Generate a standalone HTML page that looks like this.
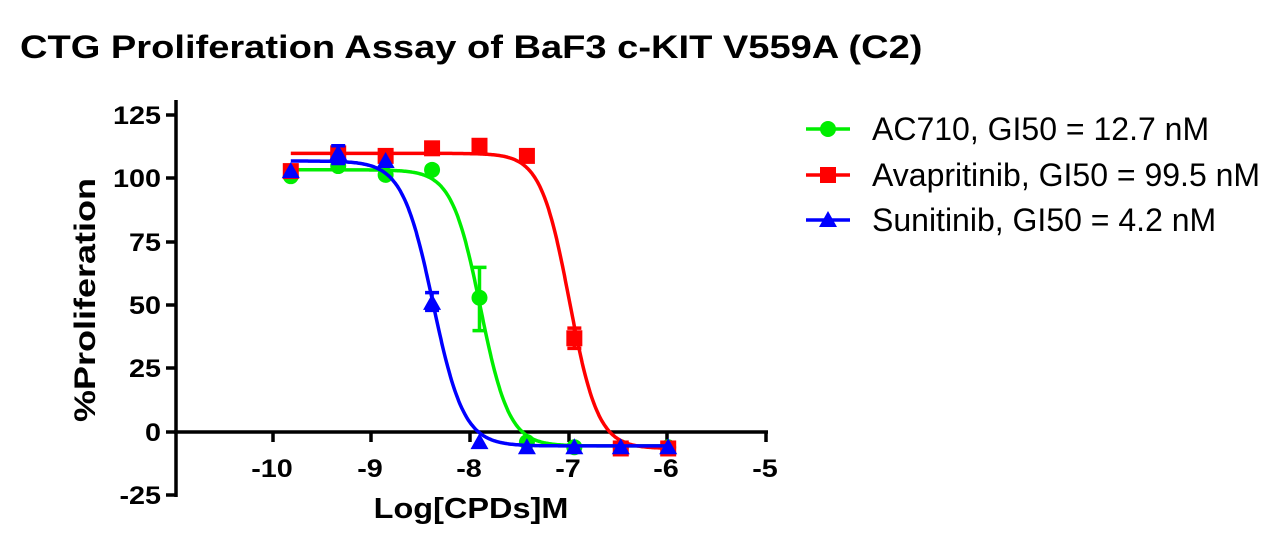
<!DOCTYPE html>
<html><head><meta charset="utf-8"><style>
body{margin:0;background:#fff;width:1273px;height:536px;overflow:hidden}
svg text{font-family:"Liberation Sans",Arial,sans-serif}
</style></head><body>
<svg id="s" width="1273" height="536" xmlns="http://www.w3.org/2000/svg">
<text transform="translate(20,58) scale(1.19,1)" font-size="32" font-weight="bold">CTG Proliferation Assay of BaF3 c-KIT V559A (C2)</text>
<g stroke="#000" stroke-width="3.5" fill="none">
<line x1="176" y1="100" x2="176" y2="497"/>
<line x1="174" y1="432" x2="768" y2="432"/>
<line x1="166" y1="115" x2="176" y2="115"/>
<line x1="166" y1="178" x2="176" y2="178"/>
<line x1="166" y1="242" x2="176" y2="242"/>
<line x1="166" y1="305" x2="176" y2="305"/>
<line x1="166" y1="368" x2="176" y2="368"/>
<line x1="166" y1="432" x2="176" y2="432"/>
<line x1="166" y1="495" x2="176" y2="495"/>
<line x1="273" y1="432" x2="273" y2="442"/>
<line x1="371" y1="432" x2="371" y2="442"/>
<line x1="470" y1="432" x2="470" y2="442"/>
<line x1="569" y1="432" x2="569" y2="442"/>
<line x1="667" y1="432" x2="667" y2="442"/>
<line x1="766" y1="432" x2="766" y2="442"/>
</g>
<g font-size="25" font-weight="bold" text-anchor="end">
<text transform="translate(161,124) scale(1.15,1)">125</text><text transform="translate(161,187) scale(1.15,1)">100</text><text transform="translate(161,251) scale(1.15,1)">75</text>
<text transform="translate(161,314) scale(1.15,1)">50</text><text transform="translate(161,377) scale(1.15,1)">25</text><text transform="translate(161,441) scale(1.15,1)">0</text><text transform="translate(161,504) scale(1.15,1)">-25</text>
</g>
<g font-size="25" font-weight="bold" text-anchor="middle">
<text transform="translate(272,477) scale(1.15,1)">-10</text><text transform="translate(370,477) scale(1.15,1)">-9</text><text transform="translate(469,477) scale(1.15,1)">-8</text>
<text transform="translate(568,477) scale(1.15,1)">-7</text><text transform="translate(666,477) scale(1.15,1)">-6</text><text transform="translate(765,477) scale(1.15,1)">-5</text>
</g>
<text transform="translate(471,518) scale(1.12,1)" font-size="29" font-weight="bold" text-anchor="middle">Log[CPDs]M</text>
<text transform="translate(95,300) rotate(-90) scale(1.2,1)" font-size="30" font-weight="bold" text-anchor="middle">%Proliferation</text>
<g id="plot"></g>
<g font-size="32">
<line x1="806" y1="129" x2="850" y2="129" stroke="#00ee00" stroke-width="3.5"/><circle cx="828" cy="129" r="8" fill="#00ee00"/>
<text x="872" y="140">AC710, GI50 = 12.7 nM</text>
<line x1="806" y1="175" x2="850" y2="175" stroke="#ff0000" stroke-width="3.5"/><rect x="820" y="167" width="16" height="16" fill="#ff0000"/>
<text x="872" y="186">Avapritinib, GI50 = 99.5 nM</text>
<line x1="806" y1="220" x2="850" y2="220" stroke="#0000ff" stroke-width="3.5"/><polygon points="828,211 837,227 819,227" fill="#0000ff"/>
<text x="872" y="231">Sunitinib, GI50 = 4.2 nM</text>
</g>
</svg>
<script>
var X=function(v){return 273+(v+10)*98.8},Y=function(v){return 432-v*2.533};
var xs=[-9.82,-9.34,-8.86,-8.39,-7.91,-7.43,-6.95,-6.48,-6.0];
var S=[
{c:"#00ee00",t:103.5,b:-5.5,l:-7.9,h:3,m:"c",d:[101,105,101.5,103.5,53,-4,-6,-6,-6],e:{4:[40,65]}},
{c:"#ff0000",t:110,b:-6.5,l:-7.0,h:3,m:"s",d:[103,110,109,112,113,109,37,-6.5,-6.5],e:{6:[33,41]}},
{c:"#0000ff",t:107,b:-5.5,l:-8.38,h:2.8,m:"t",d:[103,110,107,51,-4,-6,-6,-6,-6],e:{1:[106,113],3:[48,55]}}];
var g=document.getElementById("plot"),h="";
S.forEach(function(s){
 var p="";for(var v=-9.82;v<=-6.0;v+=0.01){var y=s.b+(s.t-s.b)/(1+Math.pow(10,(v-s.l)*s.h));p+=(p?"L":"M")+X(v).toFixed(1)+","+Y(y).toFixed(1);}
 h+='<path d="'+p+'" stroke="'+s.c+'" stroke-width="3.5" fill="none"/>';
 s.d.forEach(function(y,i){var cx=X(xs[i]),cy=Y(y);
  if(s.e[i]){var a=Y(s.e[i][0]),b=Y(s.e[i][1]);h+='<path d="M'+cx+','+a+'V'+b+'M'+(cx-7)+','+a+'h14M'+(cx-7)+','+b+'h14" stroke="'+s.c+'" stroke-width="3.5"/>';}
  if(s.m=="c")h+='<circle cx="'+cx+'" cy="'+cy+'" r="8" fill="'+s.c+'"/>';
  else if(s.m=="s")h+='<rect x="'+(cx-8)+'" y="'+(cy-8)+'" width="16" height="16" fill="'+s.c+'"/>';
  else h+='<polygon points="'+cx+','+(cy-9)+' '+(cx+9)+','+(cy+7)+' '+(cx-9)+','+(cy+7)+'" fill="'+s.c+'"/>';
 });
});
g.innerHTML=h;
</script>
</body></html>
